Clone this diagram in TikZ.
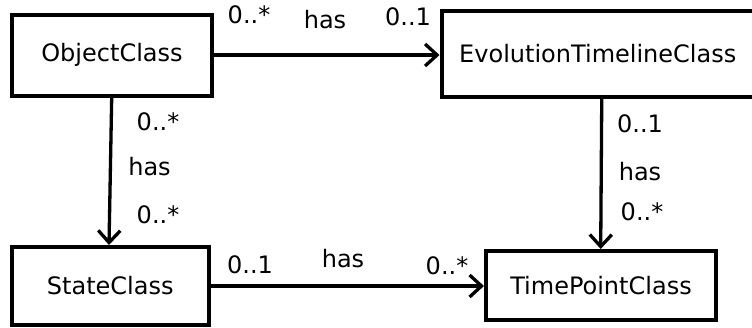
\documentclass[tikz,border=0pt]{standalone}
\usepackage{fontspec}
\setmainfont{DejaVu Sans}
\usetikzlibrary{arrows.meta}
\begin{document}
\begin{tikzpicture}[x=1pt,y=-1pt,>={Straight Barb[length=12pt,width=22pt]},
		font=\fontsize{24}{28}\selectfont,
		cls/.style={draw,line width=4pt,inner sep=0pt},
		arr/.style={->,line width=3.3pt},
		mult/.style={anchor=base,inner sep=0pt}]
		\useasboundingbox (0,0) rectangle (752,327);
		\node[cls,minimum width=200pt,minimum height=81pt] (obj) at (112,55) {ObjectClass};
		\node[cls,minimum width=312.5pt,minimum height=86pt] (evo) at (597.75,54) {EvolutionTimelineClass};
		\node[cls,minimum width=196.7pt,minimum height=78pt] (state) at (110.3,286) {StateClass};
		\node[cls,minimum width=230pt,minimum height=69pt] (tp) at (601,285.5) {TimePointClass};
		\draw[arr] (obj.east) -- (obj.east -| evo.west);
		\draw[arr] ([xshift=-0.3pt]obj.south) -- ([xshift=-1.3pt]state.north);
		\draw[arr] ([xshift=4pt]evo.south) -- ([xshift=-0.3pt]tp.north);
		\draw[arr] (state.east) -- (state.east -| tp.west);
		\node[mult] (oe1) at (249,23) {0..*};
		\node[mult] (oe2) at (325,28) {has};
		\node[mult] (oe3) at (408,25) {0..1};
		\node[mult] (os1) at (158,130) {0..*};
		\node[mult] (os2) at (149.5,175) {has};
		\node[mult] (os3) at (158,223) {0..*};
		\node[mult] (et1) at (640,132) {0..1};
		\node[mult] (et2) at (640,180) {has};
		\node[mult] (et3) at (642,220) {0..*};
		\node[mult] (st1) at (250,273) {0..1};
		\node[mult] (st2) at (343,267) {has};
		\node[mult] (st3) at (447,274) {0..*};
		\end{tikzpicture}
\end{document}
